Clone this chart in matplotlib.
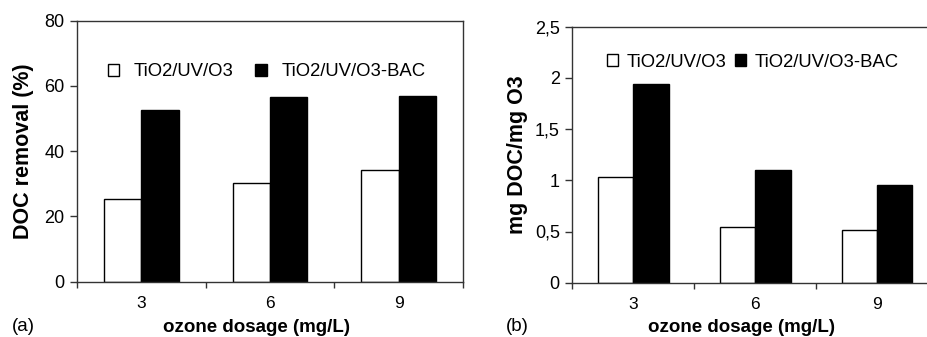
import matplotlib
matplotlib.use("Agg")
import matplotlib.pyplot as plt
from matplotlib.patches import Patch

plt.rcParams['font.family'] = ['Liberation Sans', 'DejaVu Sans']

categories = ["3", "6", "9"]
series_names = ["TiO2/UV/O3", "TiO2/UV/O3-BAC"]
removal_uv = [25.3, 30.4, 34.3]
removal_bac = [52.7, 56.7, 56.9]
ratio_uv = [1.035, 0.547, 0.515]
ratio_bac = [1.94, 1.10, 0.954]
yticks_a = [0, 20, 40, 60, 80]
yticklabels_a = ["0", "20", "40", "60", "80"]
yticks_b = [0, 0.5, 1, 1.5, 2, 2.5]
yticklabels_b = ["0", "0,5", "1", "1,5", "2", "2,5"]

W, H = 928, 337
fig = plt.figure(figsize=(W / 100, H / 100), dpi=100)

def px_axes(l, t, r, b):
    return fig.add_axes([l / W, 1 - b / H, (r - l) / W, (b - t) / H])

ax1 = px_axes(77, 20.7, 463, 281.7)
ax2 = px_axes(572.3, 26.7, 938, 282.7)

bw = 0.29
x = list(range(len(categories)))

def style(ax, uv, bac, yticks, ylabels, ymax, ylabel, legend_kw):
    ax.bar([i - bw / 2 for i in x], uv, width=bw, color="white", edgecolor="black", linewidth=1.0, zorder=2)
    ax.bar([i + bw / 2 for i in x], bac, width=bw, color="black", edgecolor="black", linewidth=1.0, zorder=2)
    ax.set_xlim(-0.5, len(categories) - 0.5)
    ax.set_ylim(0, ymax)
    ax.set_yticks(yticks)
    ax.set_yticklabels(ylabels, fontsize=13)
    ax.set_xticks(x)
    ax.set_xticklabels(categories, fontsize=12.5)
    ax.set_xticks([i - 0.5 for i in range(len(categories) + 1)], minor=True)
    ax.tick_params(axis='x', which='major', length=0, pad=10)
    ax.tick_params(axis='x', which='minor', length=4, width=1, direction='out', color='#333333')
    ax.tick_params(axis='y', length=5, width=1, direction='out', color='#333333', pad=4)
    for s in ax.spines.values():
        s.set_linewidth(1.0)
        s.set_color('#333333')
    ax.set_ylabel(ylabel, fontsize=15.5, fontweight='bold')
    ax.set_xlabel("ozone dosage (mg/L)", fontsize=13.5, fontweight='bold', va='top')
    handles = [Patch(facecolor='white', edgecolor='black', linewidth=1.0),
               Patch(facecolor='black', edgecolor='black', linewidth=1.0)]
    ax.legend(handles, series_names, frameon=False, ncol=2, fontsize=13.3,
              handlelength=0.62, handleheight=0.62, borderpad=0, borderaxespad=0,
              **legend_kw)

style(ax1, removal_uv, removal_bac, yticks_a, yticklabels_a, 80, "DOC removal (%)",
      dict(loc='center left', bbox_to_anchor=(0.080, 0.805), columnspacing=1.15,
           handletextpad=0.8))
style(ax2, ratio_uv, ratio_bac, yticks_b, yticklabels_b, 2.5, "mg DOC/mg O3",
      dict(loc='center left', bbox_to_anchor=(0.0948, 0.862), columnspacing=0.45,
           handletextpad=0.45))

ax1.xaxis.set_label_coords(0.464, -0.143)
ax2.xaxis.set_label_coords(0.462, -0.141)
ax1.yaxis.set_label_coords(-0.111, 0.5)
ax2.yaxis.set_label_coords(-0.121, 0.5)

fig.text(12 / W, 1 - 326.5 / H, "(a)", fontsize=13.5, va='center', ha='left')
fig.text(506 / W, 1 - 326.5 / H, "(b)", fontsize=13.5, va='center', ha='left')

fig.savefig("out.png", dpi=100)
